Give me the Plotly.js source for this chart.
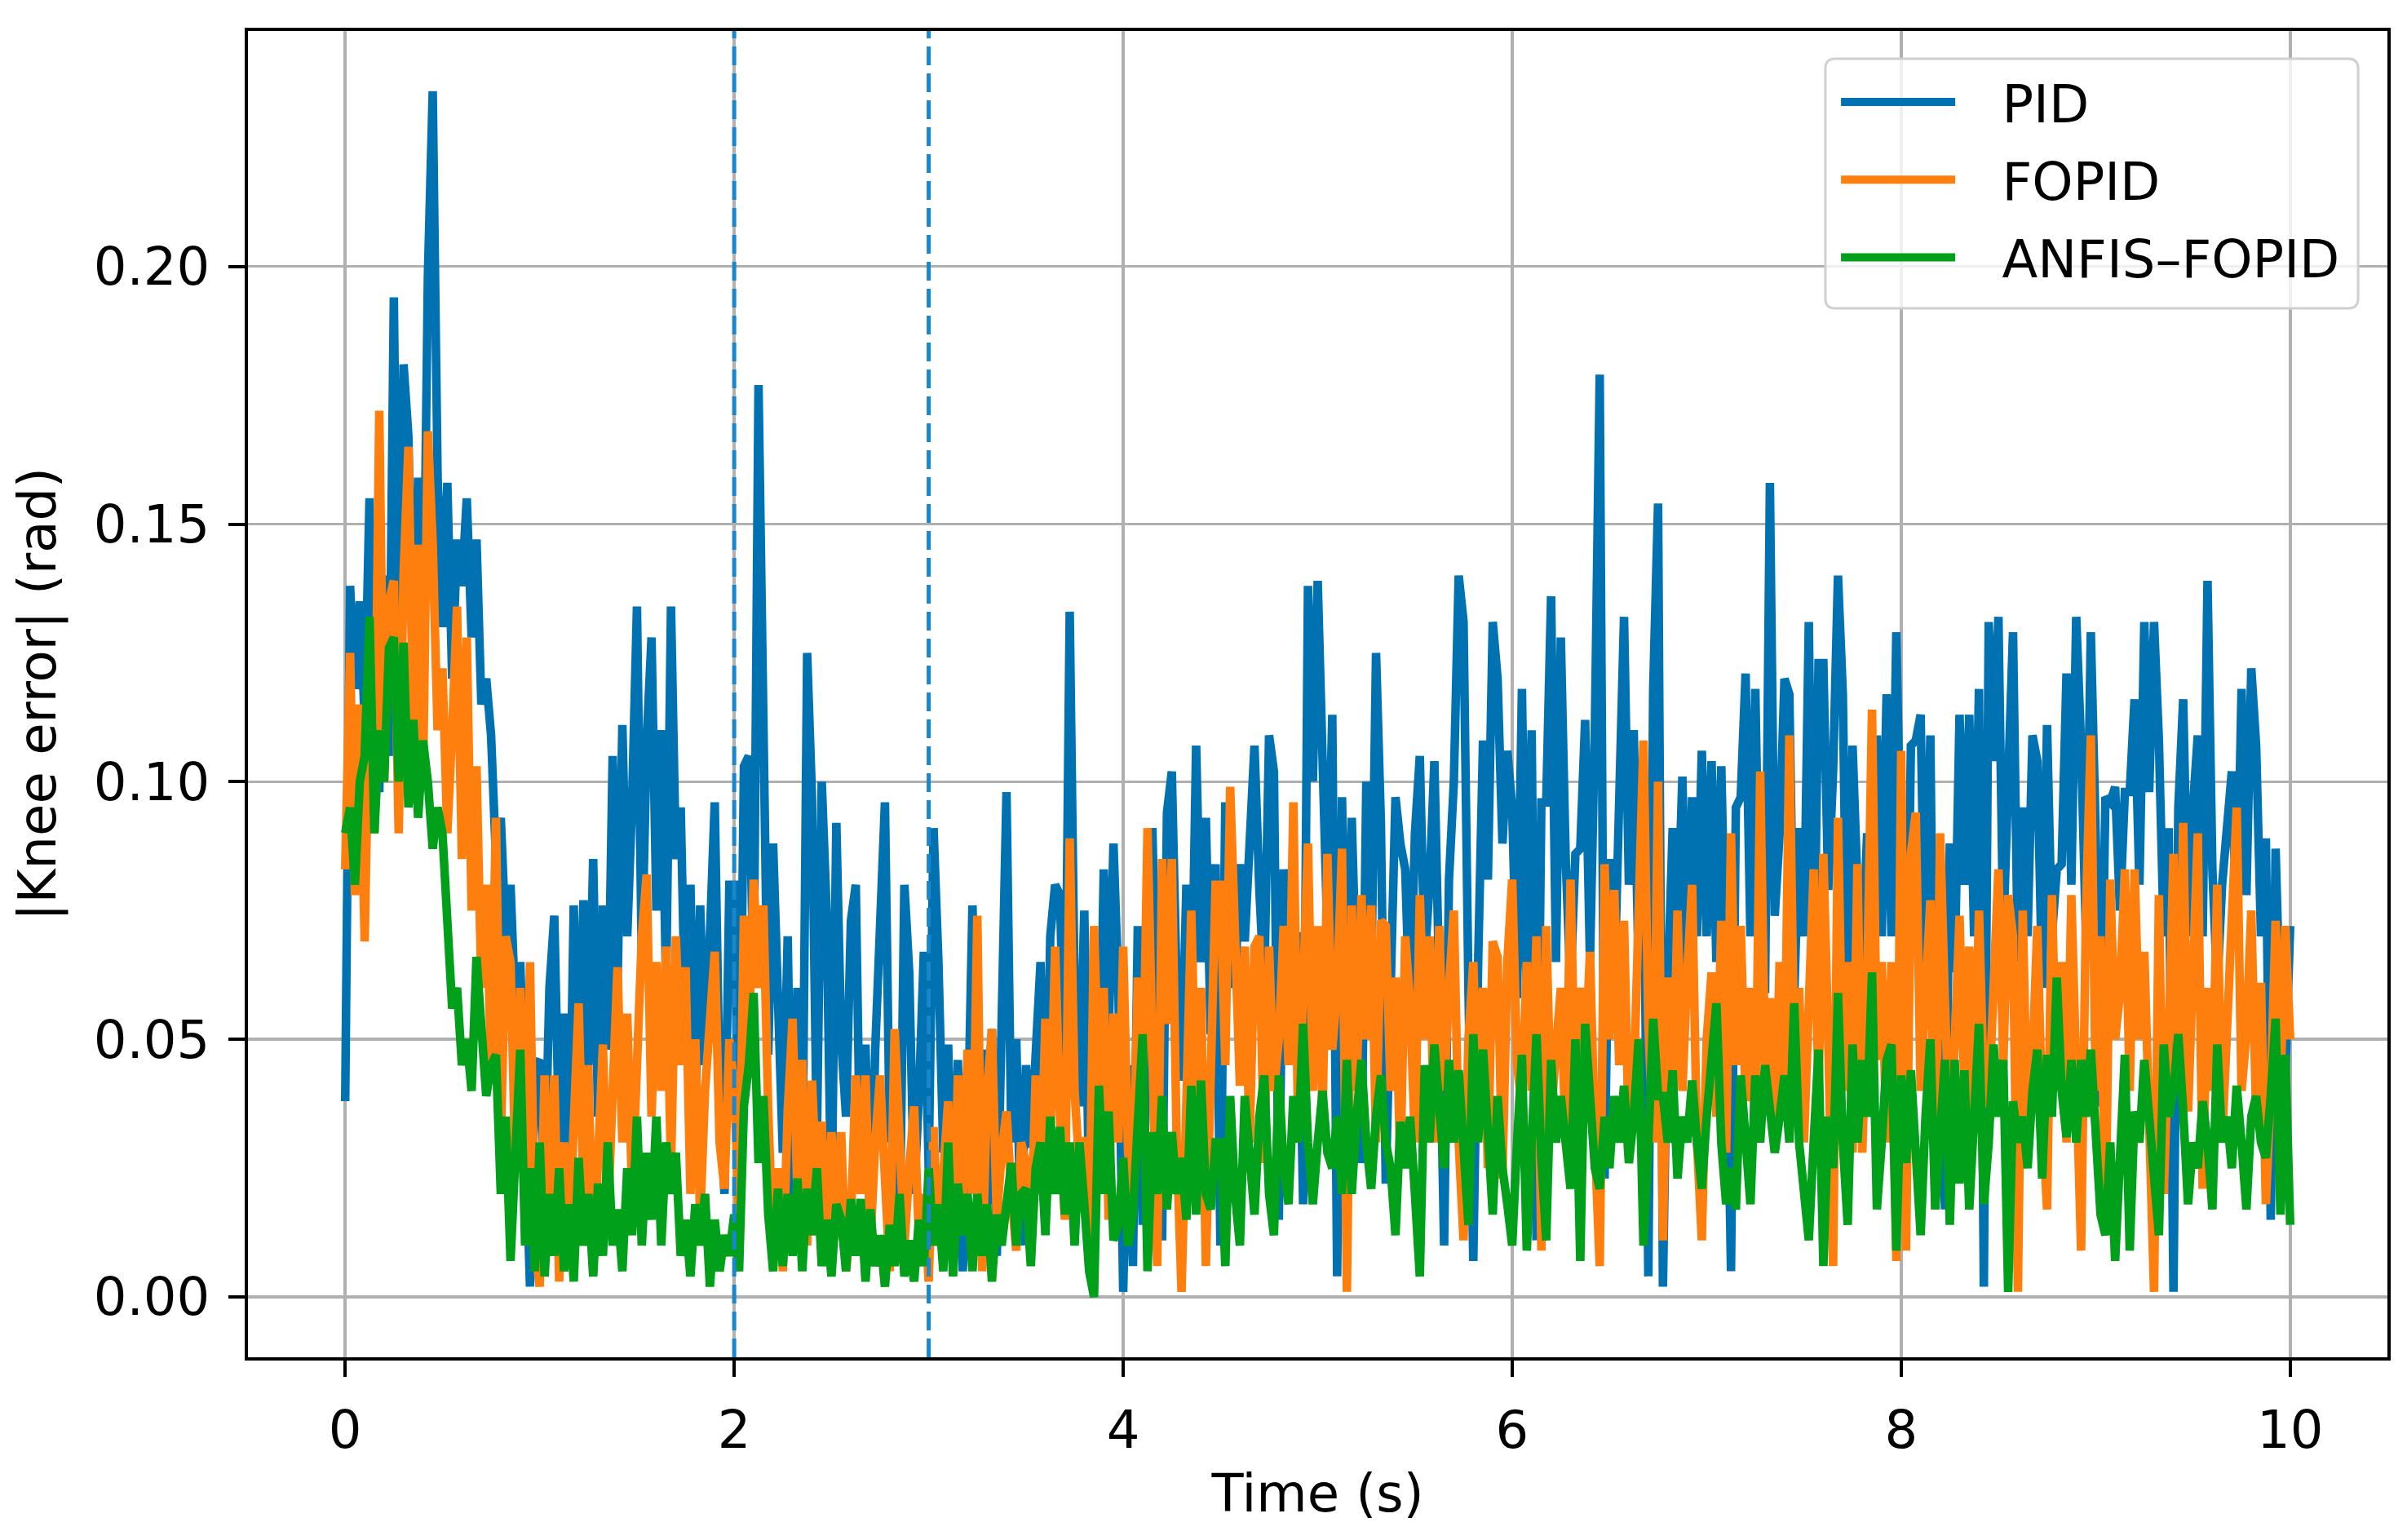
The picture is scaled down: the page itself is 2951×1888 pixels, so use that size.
<!DOCTYPE html>
<html>
<head>
<meta charset="utf-8">
<script src="https://cdn.plot.ly/plotly-3.0.1.min.js"></script>
<style>
  html, body { margin: 0; padding: 0; background: #ffffff; }
  #chart { width: 2951px; height: 1888px; }
</style>
</head>
<body>
<div id="chart"></div>
<script>
// ---- data (sample step 0.025 s) ----
const sampleStep = 0.025;
const seriesNames = ["PID", "FOPID", "ANFIS\u2013FOPID"];
const markerTimes = [2, 3];
const xTickValues = [0, 2, 4, 6, 8, 10];
const yTickValues = [0.00, 0.05, 0.10, 0.15, 0.20];

const pidError = [
  0.038,0.138,0.118,0.135,0.112,0.155,0.108,0.098,0.140,0.105,0.194,0.110,0.181,0.167,0.115,0.159,0.120,0.198,0.234,0.159,
  0.130,0.158,0.120,0.147,0.138,0.155,0.128,0.147,0.115,0.120,0.109,0.085,0.093,0.070,0.080,0.055,0.065,0.035,0.002,0.045,
  0.046,0.020,0.060,0.074,0.030,0.055,0.018,0.076,0.040,0.077,0.045,0.085,0.035,0.076,0.048,0.105,0.060,0.111,0.070,0.096,
  0.134,0.065,0.108,0.128,0.075,0.110,0.060,0.134,0.085,0.095,0.050,0.080,0.035,0.076,0.045,0.070,0.096,0.040,0.020,0.080,
  0.080,0.022,0.103,0.105,0.060,0.177,0.110,0.047,0.088,0.061,0.028,0.070,0.012,0.060,0.020,0.125,0.097,0.030,0.100,0.075,
  0.015,0.092,0.050,0.035,0.073,0.080,0.020,0.049,0.010,0.048,0.069,0.096,0.030,0.049,0.010,0.080,0.063,0.020,0.039,0.067,
  0.025,0.091,0.065,0.028,0.049,0.010,0.046,0.005,0.030,0.076,0.040,0.048,0.018,0.052,0.008,0.060,0.098,0.030,0.050,0.010,
  0.045,0.029,0.050,0.065,0.020,0.070,0.080,0.078,0.040,0.133,0.060,0.037,0.075,0.020,0.054,0.030,0.083,0.050,0.088,0.060,
  0.001,0.045,0.006,0.072,0.014,0.060,0.091,0.050,0.011,0.094,0.102,0.060,0.042,0.080,0.051,0.107,0.065,0.093,0.051,0.084,
  0.010,0.096,0.070,0.060,0.084,0.069,0.090,0.107,0.079,0.060,0.109,0.102,0.015,0.083,0.060,0.070,0.070,0.018,0.138,0.100,
  0.139,0.106,0.070,0.113,0.004,0.097,0.048,0.093,0.060,0.026,0.100,0.060,0.125,0.092,0.022,0.070,0.097,0.088,0.083,0.053,
  0.090,0.105,0.065,0.080,0.104,0.060,0.010,0.081,0.100,0.140,0.131,0.060,0.007,0.065,0.108,0.081,0.131,0.120,0.088,0.106,
  0.095,0.058,0.118,0.057,0.110,0.011,0.096,0.096,0.136,0.065,0.128,0.085,0.060,0.086,0.087,0.112,0.065,0.110,0.179,0.023,
  0.085,0.060,0.100,0.132,0.080,0.110,0.063,0.090,0.004,0.118,0.154,0.002,0.060,0.091,0.070,0.101,0.059,0.097,0.070,0.106,
  0.070,0.104,0.065,0.103,0.060,0.005,0.095,0.097,0.121,0.070,0.118,0.063,0.059,0.158,0.074,0.090,0.120,0.117,0.058,0.091,
  0.070,0.131,0.055,0.123,0.123,0.079,0.102,0.140,0.117,0.051,0.107,0.080,0.065,0.090,0.060,0.109,0.070,0.117,0.070,0.129,
  0.080,0.042,0.107,0.108,0.113,0.059,0.109,0.018,0.050,0.017,0.088,0.063,0.113,0.080,0.113,0.070,0.118,0.002,0.131,0.104,
  0.132,0.070,0.100,0.129,0.065,0.095,0.070,0.109,0.104,0.060,0.111,0.070,0.083,0.084,0.121,0.080,0.132,0.107,0.070,0.129,
  0.090,0.037,0.097,0.096,0.099,0.075,0.098,0.098,0.116,0.080,0.131,0.098,0.131,0.108,0.070,0.091,0.001,0.095,0.116,0.070,
  0.095,0.109,0.070,0.139,0.083,0.060,0.080,0.092,0.102,0.070,0.118,0.078,0.122,0.107,0.070,0.089,0.015,0.087,0.053,0.043,0.072
];

const fopidError = [
  0.083,0.125,0.078,0.115,0.069,0.120,0.090,0.172,0.100,0.135,0.139,0.090,0.140,0.165,0.110,0.146,0.100,0.168,0.146,0.110,
  0.122,0.090,0.110,0.134,0.085,0.128,0.075,0.103,0.060,0.080,0.045,0.093,0.030,0.070,0.065,0.025,0.060,0.015,0.065,0.010,
  0.002,0.043,0.010,0.043,0.003,0.030,0.010,0.040,0.057,0.020,0.045,0.005,0.030,0.049,0.015,0.040,0.064,0.030,0.055,0.020,
  0.050,0.070,0.082,0.035,0.065,0.040,0.068,0.025,0.070,0.045,0.064,0.020,0.050,0.015,0.040,0.055,0.067,0.030,0.021,0.050,
  0.041,0.015,0.074,0.050,0.081,0.060,0.076,0.036,0.010,0.025,0.005,0.036,0.054,0.020,0.046,0.010,0.042,0.020,0.034,0.008,
  0.032,0.015,0.032,0.005,0.015,0.043,0.020,0.043,0.010,0.030,0.043,0.023,0.005,0.052,0.030,0.010,0.025,0.037,0.011,0.020,
  0.003,0.033,0.010,0.025,0.038,0.005,0.043,0.015,0.048,0.020,0.074,0.005,0.040,0.052,0.015,0.028,0.036,0.020,0.009,0.030,
  0.026,0.010,0.043,0.020,0.054,0.030,0.068,0.035,0.015,0.089,0.040,0.025,0.031,0.010,0.072,0.040,0.060,0.015,0.055,0.030,
  0.068,0.028,0.020,0.062,0.035,0.091,0.050,0.006,0.085,0.053,0.085,0.030,0.001,0.043,0.075,0.035,0.060,0.006,0.050,0.080,
  0.080,0.045,0.099,0.070,0.041,0.068,0.030,0.068,0.070,0.026,0.068,0.040,0.050,0.072,0.045,0.096,0.031,0.060,0.088,0.040,
  0.072,0.035,0.086,0.048,0.060,0.087,0.001,0.076,0.040,0.078,0.050,0.076,0.030,0.073,0.072,0.040,0.062,0.025,0.070,0.057,
  0.030,0.078,0.050,0.070,0.030,0.072,0.040,0.060,0.075,0.030,0.011,0.050,0.065,0.035,0.060,0.025,0.069,0.066,0.023,0.065,
  0.081,0.045,0.037,0.065,0.040,0.070,0.009,0.072,0.035,0.048,0.060,0.030,0.081,0.037,0.060,0.045,0.067,0.030,0.006,0.084,
  0.050,0.079,0.045,0.073,0.030,0.041,0.070,0.108,0.053,0.030,0.100,0.011,0.062,0.035,0.075,0.040,0.063,0.080,0.030,0.011,
  0.050,0.063,0.035,0.073,0.028,0.090,0.045,0.072,0.038,0.060,0.030,0.102,0.045,0.058,0.030,0.065,0.040,0.109,0.047,0.060,
  0.030,0.060,0.083,0.040,0.086,0.050,0.006,0.093,0.040,0.065,0.028,0.084,0.028,0.060,0.114,0.046,0.065,0.030,0.065,0.007,
  0.106,0.009,0.086,0.094,0.040,0.059,0.077,0.017,0.090,0.057,0.030,0.049,0.074,0.040,0.068,0.035,0.075,0.040,0.037,0.060,
  0.083,0.045,0.078,0.070,0.001,0.075,0.030,0.046,0.072,0.035,0.017,0.078,0.040,0.065,0.030,0.078,0.045,0.009,0.075,0.109,
  0.040,0.070,0.012,0.081,0.050,0.059,0.083,0.040,0.083,0.050,0.067,0.030,0.001,0.078,0.020,0.050,0.086,0.040,0.092,0.036,
  0.060,0.090,0.021,0.060,0.040,0.080,0.030,0.053,0.070,0.095,0.040,0.051,0.075,0.035,0.061,0.018,0.040,0.073,0.041,0.072,0.050
];

const anfisError = [
  0.090,0.095,0.080,0.100,0.105,0.132,0.090,0.110,0.100,0.126,0.128,0.100,0.127,0.095,0.112,0.093,0.108,0.100,0.087,0.095,
  0.090,0.075,0.056,0.060,0.045,0.050,0.040,0.066,0.050,0.039,0.045,0.047,0.020,0.035,0.007,0.030,0.048,0.010,0.025,0.005,
  0.030,0.004,0.020,0.008,0.025,0.005,0.018,0.003,0.027,0.010,0.020,0.004,0.022,0.008,0.030,0.010,0.017,0.005,0.025,0.012,
  0.035,0.010,0.028,0.015,0.035,0.010,0.030,0.020,0.028,0.008,0.015,0.004,0.018,0.010,0.020,0.002,0.015,0.005,0.012,0.008,
  0.016,0.005,0.037,0.045,0.059,0.026,0.039,0.016,0.005,0.021,0.006,0.020,0.008,0.023,0.005,0.021,0.012,0.025,0.006,0.015,
  0.004,0.018,0.015,0.005,0.019,0.008,0.019,0.003,0.017,0.006,0.012,0.002,0.014,0.006,0.020,0.004,0.011,0.003,0.015,0.006,
  0.025,0.010,0.018,0.005,0.030,0.004,0.022,0.012,0.020,0.005,0.020,0.008,0.018,0.003,0.016,0.010,0.020,0.026,0.010,0.020,
  0.021,0.006,0.025,0.030,0.012,0.035,0.020,0.033,0.016,0.030,0.010,0.030,0.018,0.005,0.000,0.041,0.020,0.036,0.011,0.014,
  0.027,0.010,0.016,0.035,0.051,0.005,0.032,0.020,0.039,0.017,0.032,0.020,0.027,0.015,0.041,0.016,0.042,0.020,0.017,0.030,
  0.030,0.006,0.039,0.020,0.010,0.039,0.025,0.016,0.035,0.043,0.020,0.012,0.043,0.025,0.018,0.039,0.030,0.053,0.030,0.018,
  0.030,0.040,0.028,0.025,0.035,0.020,0.046,0.020,0.035,0.046,0.030,0.021,0.035,0.043,0.030,0.025,0.012,0.034,0.025,0.035,
  0.020,0.004,0.045,0.030,0.049,0.035,0.025,0.046,0.030,0.044,0.030,0.014,0.051,0.030,0.048,0.030,0.016,0.039,0.025,0.018,
  0.010,0.030,0.047,0.009,0.035,0.051,0.027,0.011,0.046,0.030,0.039,0.030,0.021,0.050,0.007,0.053,0.036,0.025,0.021,0.035,
  0.025,0.039,0.030,0.041,0.026,0.035,0.050,0.010,0.030,0.054,0.039,0.039,0.030,0.044,0.023,0.035,0.030,0.042,0.030,0.021,
  0.035,0.046,0.057,0.030,0.018,0.025,0.017,0.043,0.030,0.018,0.043,0.030,0.045,0.035,0.028,0.035,0.043,0.030,0.057,0.030,
  0.020,0.011,0.030,0.048,0.006,0.035,0.025,0.059,0.030,0.014,0.049,0.030,0.046,0.035,0.063,0.017,0.030,0.046,0.049,0.009,
  0.043,0.026,0.044,0.030,0.012,0.035,0.050,0.017,0.030,0.046,0.014,0.046,0.022,0.044,0.017,0.035,0.053,0.018,0.030,0.049,
  0.035,0.046,0.001,0.038,0.030,0.035,0.025,0.040,0.048,0.023,0.047,0.035,0.062,0.040,0.031,0.046,0.030,0.046,0.035,0.048,
  0.030,0.016,0.012,0.030,0.007,0.025,0.047,0.009,0.036,0.030,0.046,0.035,0.023,0.012,0.049,0.035,0.040,0.051,0.036,0.018,
  0.030,0.025,0.038,0.030,0.017,0.049,0.030,0.035,0.025,0.041,0.030,0.017,0.035,0.039,0.030,0.027,0.039,0.054,0.016,0.047,0.014
];

const seriesValues = [pidError, fopidError, anfisError];
const seriesColors = ["#0072b2", "#ff7f0e", "#00a01a"];

// ---- build traces ----
const timeOf = arr => arr.map((_, i) => +(i * sampleStep).toFixed(3));
const legendGap = "\u00a0\u2002";
const traces = seriesValues.map((vals, k) => ({
  type: "scatter",
  mode: "lines",
  name: legendGap + seriesNames[k],
  legendgroup: "g" + k,
  x: timeOf(vals),
  y: vals,
  line: { color: seriesColors[k], width: 10.5 }
}));

const fontFamily = "DejaVu Sans, Liberation Sans, sans-serif";

// vertical dashed markers
const shapes = markerTimes.map(t => ({
  type: "line", xref: "x", yref: "paper",
  x0: t, x1: t, y0: 0, y1: 1,
  line: { color: "#1a86cc", width: 5, dash: "23px,10px" },
  layer: "above"
}));

// rounded legend frame (paper coordinates)
const lx0 = 0.7373, lx1 = 0.9863, ly0 = 0.7909, ly1 = 0.9791, rx = 0.0046, ry = 0.0074;
shapes.push({
  type: "path", xref: "paper", yref: "paper", layer: "above",
  path: `M${lx0+rx},${ly1} L${lx1-rx},${ly1} Q${lx1},${ly1} ${lx1},${ly1-ry} L${lx1},${ly0+ry} Q${lx1},${ly0} ${lx1-rx},${ly0} L${lx0+rx},${ly0} Q${lx0},${ly0} ${lx0},${ly0+ry} L${lx0},${ly1-ry} Q${lx0},${ly1} ${lx0+rx},${ly1} Z`,
  fillcolor: "rgba(255,255,255,0.8)",
  line: { color: "#d0d0d0", width: 3 }
});

const axisCommon = {
  showline: true, linecolor: "#000000", linewidth: 4, mirror: true,
  ticks: "outside", ticklen: 20, tickwidth: 4, tickcolor: "#000000",
  showgrid: true, gridcolor: "#b0b0b0", gridwidth: 3.5,
  zeroline: false,
  tickfont: { family: fontFamily, size: 64, color: "#000000" },
  automargin: false
};

const layout = {
  width: 2951, height: 1888,
  paper_bgcolor: "#ffffff", plot_bgcolor: "#ffffff",
  margin: { l: 304, r: 24, t: 38, b: 224, pad: 0 },
  font: { family: fontFamily, size: 64, color: "#000000" },
  xaxis: Object.assign({}, axisCommon, {
    range: [-0.5, 10.5],
    tickmode: "array", tickvals: xTickValues,
    ticktext: xTickValues.map(String),
    ticklabelstandoff: 10,
    title: { text: "Time (s)", font: { family: fontFamily, size: 64, color: "#000000" }, standoff: 20 }
  }),
  yaxis: Object.assign({}, axisCommon, {
    range: [-0.0117, 0.2457],
    tickmode: "array", tickvals: yTickValues,
    ticktext: yTickValues.map(v => v.toFixed(2)),
    ticklabelstandoff: 10,
    title: { text: "|Knee error| (rad)", font: { family: fontFamily, size: 64, color: "#000000" }, standoff: 26 }
  }),
  showlegend: true,
  legend: {
    x: 0.7427, y: 0.9760, xanchor: "left", yanchor: "top",
    bgcolor: "rgba(0,0,0,0)",
    borderwidth: 0,
    font: { family: fontFamily, size: 64, color: "#000000" },
    itemwidth: 140,
    traceorder: "grouped",
    tracegroupgap: 9
  },
  shapes: shapes
};

Plotly.newPlot("chart", traces, layout, { staticPlot: true, displayModeBar: false });
</script>
</body>
</html>
